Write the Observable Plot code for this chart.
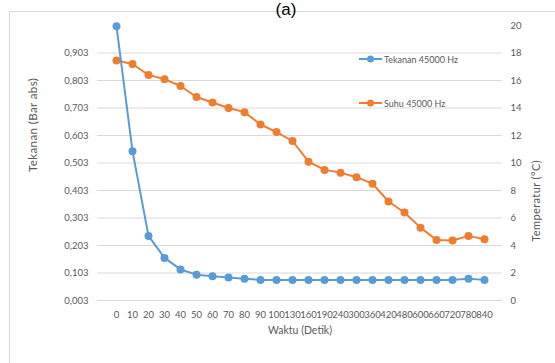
<!DOCTYPE html>
<html>
<head>
<meta charset="utf-8">
<script src="https://cdn.jsdelivr.net/npm/d3@7"></script>
<script src="https://cdn.jsdelivr.net/npm/@observablehq/plot@0.6"></script>
<style>
  html, body { margin: 0; padding: 0; background: #fff; }
  #wrap { position: relative; width: 555px; height: 363px; overflow: hidden; background: #fff; }
  #border { position: absolute; left: 9px; top: 11px; width: 600px; height: 400px; border: 1px solid #d9d9d9; box-sizing: border-box; }
  #title { position: absolute; left: 0; width: 572px; top: 0px; text-align: center; font-family: "Liberation Sans", Arial, sans-serif; font-size: 17px; line-height: 19px; color: #000; background: transparent; }
  #chart { position: absolute; left: 0; top: 0; }
  .leg { position: absolute; left: 359px; font-family: Lato, sans-serif; font-size: 9px; color: #595959; display: flex; align-items: center; white-space: nowrap; }
  .leg svg { display: block; margin-right: 1px; }
  .ytitle { letter-spacing: 0.4px; }
</style>
</head>
<body>
<div id="wrap">
  <div id="border"></div>
  <div id="chart"></div>
  <div id="title">(a)</div>
  <div class="leg" style="top:53px"><svg width="24" height="12"><line x1="0" y1="6" x2="23" y2="6" stroke="#5b9bd5" stroke-width="2"/><circle cx="11.5" cy="6" r="3.5" fill="#5b9bd5"/></svg>Tekanan 45000 Hz</div>
  <div class="leg" style="top:97px"><svg width="24" height="12"><line x1="0" y1="6" x2="23" y2="6" stroke="#ed7d31" stroke-width="2"/><circle cx="11.5" cy="6" r="3.5" fill="#ed7d31"/></svg>Suhu 45000 Hz</div>
</div>
<script>
const waktu = ["0","10","20","30","40","50","60","70","80","90","100","130","160","190","240","300","360","420","480","600","660","720","780","840"];
const tekanan = [1.0,0.546,0.238,0.158,0.116,0.097,0.091,0.087,0.082,0.078,0.078,0.078,0.078,0.078,0.078,0.078,0.078,0.078,0.078,0.078,0.078,0.078,0.082,0.078];
const suhu = [17.45,17.2,16.4,16.1,15.6,14.8,14.4,14.0,13.7,12.8,12.25,11.6,10.1,9.5,9.3,8.97,8.5,7.2,6.4,5.3,4.4,4.36,4.7,4.46];
const leftTicks = [0.003,0.103,0.203,0.303,0.403,0.503,0.603,0.703,0.803,0.903];
const rightTicks = [0,2,4,6,8,10,12,14,16,18,20];
const yMin = 0.003, yMax = 1.003, tMax = 20;

const toLeft = t => yMin + (t / tMax) * (yMax - yMin);
const rowsP = waktu.map((w, i) => ({w, v: tekanan[i]}));
const rowsT = waktu.map((w, i) => ({w, t: suhu[i]}));

const font = "Lato, sans-serif";
const chart = Plot.plot({
  width: 555,
  height: 363,
  marginLeft: 97,
  marginRight: 53,
  marginTop: 25,
  marginBottom: 63,
  style: {fontFamily: font, fontSize: "9.5px", color: "#595959", background: "transparent"},
  x: {type: "point", domain: waktu, padding: 0.5, label: null},
  y: {domain: [yMin, yMax], label: null},
  marks: [
    Plot.gridY(leftTicks, {stroke: "#d9d9d9", strokeOpacity: 1, strokeWidth: 1}),
    Plot.axisY(leftTicks, {anchor: "left", tickSize: 0, tickPadding: 9, tickFormat: d => d.toFixed(3).replace(".", ","), label: null, fill: "#595959"}),
    Plot.axisY(rightTicks.map(toLeft), {anchor: "right", tickSize: 0, tickPadding: 8, tickFormat: d => String(Math.round((d - yMin) / (yMax - yMin) * tMax)), label: null, fill: "#595959"}),
    Plot.axisX({tickSize: 0, tickPadding: 11, label: null, fill: "#595959", fontSize: "9.5px"}),
    Plot.line(rowsT, {x: "w", y: d => toLeft(d.t), stroke: "#ed7d31", strokeWidth: 2}),
    Plot.dot(rowsT, {x: "w", y: d => toLeft(d.t), r: 4, fill: "#ed7d31", stroke: "none"}),
    Plot.line(rowsP, {x: "w", y: "v", stroke: "#5b9bd5", strokeWidth: 2}),
    Plot.dot(rowsP, {x: "w", y: "v", r: 4, fill: "#5b9bd5", stroke: "none"}),
    Plot.text(["Tekanan (Bar abs)"], {frameAnchor: "left", dx: -64, dy: 9, rotate: -90, fontSize: 11.5, fill: "#595959", className: "ytitle"}),
    Plot.text(["Temperatur (°C)"], {frameAnchor: "right", dx: 34, dy: -3, rotate: -90, fontSize: 11, fill: "#595959", className: "ytitle"}),
    Plot.text(["Waktu (Detik)"], {frameAnchor: "bottom", dy: 33, fontSize: 10.5, fill: "#595959"})
  ]
});
document.getElementById("chart").appendChild(chart);
</script>
</body>
</html>
